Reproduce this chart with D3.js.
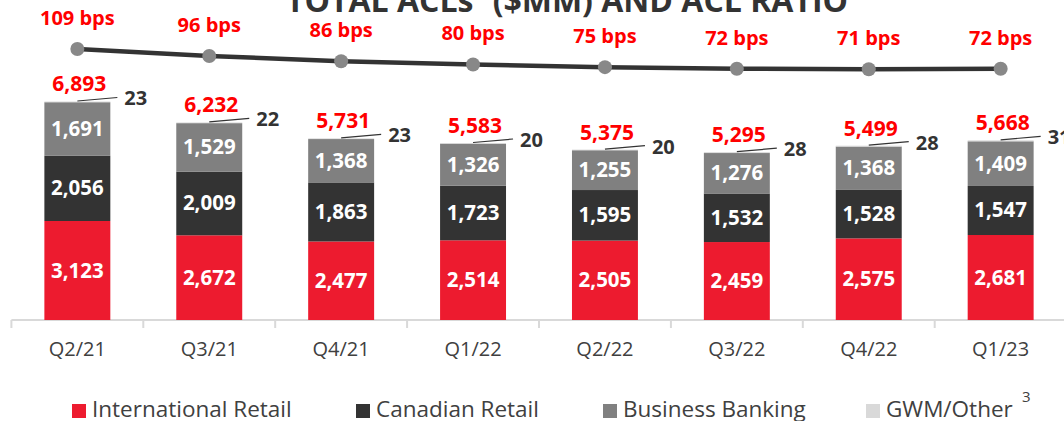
<!DOCTYPE html>
<html lang="en">
<head>
<meta charset="UTF-8">
<title>Total ACLs and ACL ratio</title>
<style>
    body { margin: 0; background: #fff; }
    svg { display: block; font-family: "Open Sans", "Noto Sans", sans-serif; }
    .axis-line { stroke: #d9d9d9; stroke-width: 2px; }
    .tick-line { stroke: #d9d9d9; stroke-width: 2px; }
</style>
<script src="https://cdn.jsdelivr.net/npm/d3@7"></script>
</head>
<body>
<script>
    // data
    var quarters = ["Q2/21", "Q3/21", "Q4/21", "Q1/22", "Q2/22", "Q3/22", "Q4/22", "Q1/23"];
    var intlRetail = [3123, 2672, 2477, 2514, 2505, 2459, 2575, 2681];
    var cdnRetail = [2056, 2009, 1863, 1723, 1595, 1532, 1528, 1547];
    var busBanking = [1691, 1529, 1368, 1326, 1255, 1276, 1368, 1409];
    var gwmOther = [23, 22, 23, 20, 20, 28, 28, 31];
    var totals = [6893, 6232, 5731, 5583, 5375, 5295, 5499, 5668];
    var aclRatio = [109, 96, 86, 80, 75, 72, 71, 72];

    var seriesNames = ["International Retail", "Canadian Retail", "Business Banking", "GWM/Other"];
    var seriesColors = ["#ed1b2f", "#333333", "#808080", "#d9d9d9"];

    var W = 1064, H = 421;
    var svg = d3.select("body").append("svg")
        .attr("width", W)
        .attr("height", H);

    var x = d3.scaleBand()
        .domain(quarters)
        .range([11.4, 1066.6])
        .paddingInner(0.5)
        .paddingOuter(0.25);

    var y = d3.scaleLinear()
        .domain([0, 10000])
        .range([320, 3]);

    var yRatio = d3.scaleLinear()
        .domain([70, 110])
        .range([69.8, 48.5]);

    var fmt = d3.format(",");
    var cx = function (q) { return x(q) + x.bandwidth() / 2; };

    // build table for stacking
    var rows = quarters.map(function (q, i) {
        return { q: q, s0: intlRetail[i], s1: cdnRetail[i], s2: busBanking[i], s3: gwmOther[i], total: totals[i] };
    });
    var layers = d3.stack().keys(["s0", "s1", "s2", "s3"])(rows);

    // title (cut off at top like the source)
    var title = svg.append("text")
        .attr("x", 567)
        .attr("y", 12)
        .attr("text-anchor", "middle")
        .style("font-size", "32px")
        .style("font-weight", "bold")
        .style("fill", "#333");
    title.append("tspan").text("TOTAL ACLs");
    title.append("tspan").attr("dy", -13).style("font-size", "19px").text("3");
    title.append("tspan").attr("dy", 13).text(" ($MM) AND ACL RATIO");

    // axis line + ticks at band edges
    svg.append("line")
        .attr("class", "axis-line")
        .attr("x1", x.range()[0]).attr("x2", W)
        .attr("y1", y(0)).attr("y2", y(0));

    var edges = d3.range(quarters.length + 1).map(function (i) { return x.range()[0] + i * x.step(); });
    svg.selectAll(".tick-line")
        .data(edges)
        .enter().append("line")
        .attr("class", "tick-line")
        .attr("x1", function (d) { return d; })
        .attr("x2", function (d) { return d; })
        .attr("y1", y(0))
        .attr("y2", y(0) + 8);

    svg.selectAll(".xlabel")
        .data(quarters)
        .enter().append("text")
        .attr("class", "xlabel")
        .attr("x", cx)
        .attr("y", 356)
        .attr("text-anchor", "middle")
        .style("font-size", "20px")
        .style("fill", "#404040")
        .text(function (d) { return d; });

    // stacked bars
    var g = svg.append("g");
    layers.forEach(function (layer, li) {
        g.selectAll(null)
            .data(layer)
            .enter().append("rect")
            .attr("x", function (d) { return x(d.data.q); })
            .attr("width", x.bandwidth())
            .attr("y", function (d) { return y(d[1]); })
            .attr("height", function (d) { return y(d[0]) - y(d[1]); })
            .style("fill", seriesColors[li]);
    });

    // white labels in the three large segments
    layers.slice(0, 3).forEach(function (layer) {
        svg.selectAll(null)
            .data(layer)
            .enter().append("text")
            .attr("x", function (d) { return cx(d.data.q); })
            .attr("y", function (d) { return (y(d[0]) + y(d[1])) / 2 + 7; })
            .attr("text-anchor", "middle")
            .style("font-size", "20.5px")
            .style("font-weight", "bold")
            .style("fill", "#fff")
            .text(function (d) { return fmt(d[1] - d[0]); });
    });

    // GWM/Other leader lines and labels
    var gwmLayer = layers[3];
    svg.selectAll(".leader")
        .data(gwmLayer)
        .enter().append("line")
        .attr("class", "leader")
        .attr("x1", function (d) { return cx(d.data.q); })
        .attr("y1", function (d) { return y(d[1]) - 0.5; })
        .attr("x2", function (d) { return cx(d.data.q) + 40; })
        .attr("y2", function (d) { return y(d[1]) - 4; })
        .style("stroke", "#333")
        .style("stroke-width", 1.2);

    svg.selectAll(".gwm")
        .data(gwmLayer)
        .enter().append("text")
        .attr("class", "gwm")
        .attr("x", function (d) { return cx(d.data.q) + 47; })
        .attr("y", function (d) { return y(d[1]) + 4; })
        .style("font-size", "20px")
        .style("font-weight", "bold")
        .style("fill", "#333")
        .text(function (d) { return fmt(d[1] - d[0]); });

    // totals
    svg.selectAll(".total")
        .data(rows)
        .enter().append("text")
        .attr("class", "total")
        .attr("x", function (d) { return cx(d.q) + 2; })
        .attr("y", function (d) { return y(d.total) - 10; })
        .attr("text-anchor", "middle")
        .style("font-size", "21px")
        .style("font-weight", "bold")
        .style("fill", "#ff0000")
        .text(function (d) { return fmt(d.total); });

    // ACL ratio line
    var ratioPts = quarters.map(function (q, i) {
        return [cx(q), yRatio(aclRatio[i])];
    });
    svg.append("path")
        .datum(ratioPts)
        .attr("d", d3.line())
        .style("fill", "none")
        .style("stroke", "#333")
        .style("stroke-width", 4.5);

    svg.selectAll(".dot")
        .data(ratioPts)
        .enter().append("circle")
        .attr("class", "dot")
        .attr("cx", function (d) { return d[0]; })
        .attr("cy", function (d) { return d[1]; })
        .attr("r", 7)
        .style("fill", "#888");

    svg.selectAll(".bps")
        .data(ratioPts)
        .enter().append("text")
        .attr("class", "bps")
        .attr("x", function (d) { return d[0]; })
        .attr("y", function (d) { return d[1] - 24; })
        .attr("text-anchor", "middle")
        .style("font-size", "20px")
        .style("font-weight", "bold")
        .style("fill", "#ff0000")
        .text(function (d, i) { return aclRatio[i] + " bps"; });

    // legend
    var legendX = [72, 356, 603, 866];
    var leg = svg.selectAll(".leg")
        .data(seriesNames)
        .enter().append("g")
        .attr("class", "leg")
        .attr("transform", function (d, i) { return "translate(" + legendX[i] + ",0)"; });
    leg.append("rect")
        .attr("x", 0).attr("y", 404)
        .attr("width", 14).attr("height", 14)
        .style("fill", function (d, i) { return seriesColors[i]; });
    leg.append("text")
        .attr("x", 20)
        .attr("y", 417)
        .style("font-size", "22.5px")
        .style("fill", "#404040")
        .text(function (d) { return d; });

    svg.append("text")
        .attr("x", 1022)
        .attr("y", 402)
        .style("font-size", "15px")
        .style("fill", "#404040")
        .text("3");
</script>
</body>
</html>
